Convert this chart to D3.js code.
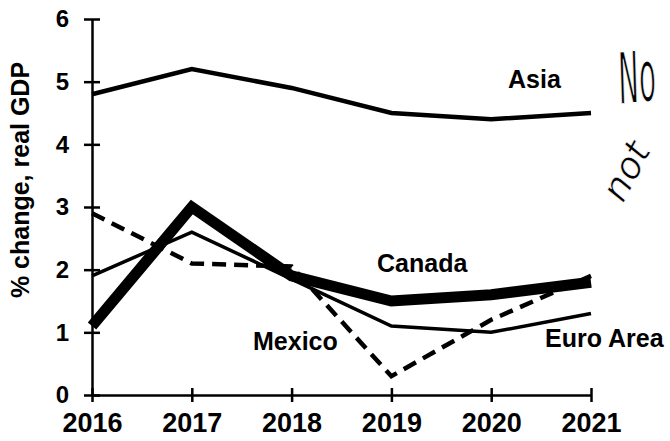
<!DOCTYPE html>
<html>
<head>
<meta charset="utf-8">
<script src="https://cdn.jsdelivr.net/npm/d3@7"></script>
<style>
  body { margin: 0; background: #fff; }
  svg { display: block; font-family: "Liberation Sans", Arial, sans-serif; }
</style>
</head>
<body>
<svg id="chart" width="670" height="441"></svg>
<script>
'use strict';

var years = [2016, 2017, 2018, 2019, 2020, 2021];
var yTicks = [0, 1, 2, 3, 4, 5, 6];

var asia = [4.8, 5.2, 4.9, 4.5, 4.4, 4.5];
var canada = [1.1, 3.0, 1.9, 1.5, 1.6, 1.8];
var euroArea = [1.9, 2.6, 1.85, 1.1, 1.0, 1.3];
var mexico = [2.9, 2.1, 2.05, 0.3, 1.2, 1.9];

var svg = d3.select('#chart');

var x = d3.scaleLinear().domain([2016, 2021]).range([92, 591]);
var y = d3.scaleLinear().domain([0, 6]).range([395, 19]);

// axes, ticks cross the axis line
let yAxis = svg.append('g')
  .attr('transform', 'translate(' + x(2016) + ',0)')
  .call(d3.axisLeft(y).tickValues(yTicks).tickFormat(d3.format('d'))
    .tickSize(8).tickPadding(15).tickSizeOuter(0));
yAxis.select('.domain').attr('stroke-width', 2.5);
yAxis.selectAll('.tick line').attr('x1', 8).attr('stroke-width', 2.5);
yAxis.selectAll('.tick text')
  .style('font-size', '24px').style('font-weight', 'bold').attr('fill', '#000');

let xAxis = svg.append('g')
  .attr('transform', 'translate(0,' + y(0) + ')')
  .call(d3.axisBottom(x).tickValues(years).tickFormat(d3.format('d'))
    .tickSize(7).tickPadding(11).tickSizeOuter(0));
xAxis.select('.domain').attr('stroke-width', 2.5);
xAxis.selectAll('.tick line').attr('y1', -7).attr('stroke-width', 2.5);
xAxis.selectAll('.tick text')
  .style('font-size', '27px').style('font-weight', 'bold').attr('fill', '#000');

svg.append('text')
  .attr('transform', 'translate(29,180) rotate(-90)')
  .attr('text-anchor', 'middle')
  .style('font-size', '25px').style('font-weight', 'bold')
  .text('% change, real GDP');

var line = d3.line()
  .x(function (d, i) { return x(years[i]); })
  .y(function (d) { return y(d); });

var series = [
  { values: mexico, width: 4.5, dash: '14,8' },
  { values: euroArea, width: 3.5, dash: null },
  { values: canada, width: 11, dash: null },
  { values: asia, width: 4.5, dash: null }
];

svg.selectAll('path.series')
  .data(series)
  .enter().append('path')
  .attr('class', 'series')
  .attr('d', function (d) { return line(d.values); })
  .attr('fill', 'none')
  .attr('stroke', '#000')
  .attr('stroke-width', function (d) { return d.width; })
  .attr('stroke-dasharray', function (d) { return d.dash; })
  .attr('stroke-linejoin', 'miter');

var labels = [
  { text: 'Asia', x: 508, y: 88 },
  { text: 'Canada', x: 377, y: 272 },
  { text: 'Mexico', x: 253, y: 350 },
  { text: 'Euro Area', x: 545, y: 347 }
];

svg.selectAll('text.lbl')
  .data(labels)
  .enter().append('text')
  .attr('class', 'lbl')
  .attr('x', function (d) { return d.x; })
  .attr('y', function (d) { return d.y; })
  .style('font-size', '25px').style('font-weight', 'bold')
  .text(function (d) { return d.text; });

// handwritten note in the margin, cut off at the right edge
var hand = svg.append('g')
  .style('font-family', '"DejaVu Sans"')
  .style('font-style', 'italic')
  .style('font-size', '34px')
  .attr('stroke', '#fff').attr('stroke-width', 0.6);
hand.append('text')
  .attr('transform', 'translate(621,104) rotate(-6) scale(0.8,2.1)')
  .text('No');
hand.append('text')
  .attr('transform', 'translate(623,204) rotate(-62) scale(1.1,1.1)')
  .text('not');
</script>
</body>
</html>
